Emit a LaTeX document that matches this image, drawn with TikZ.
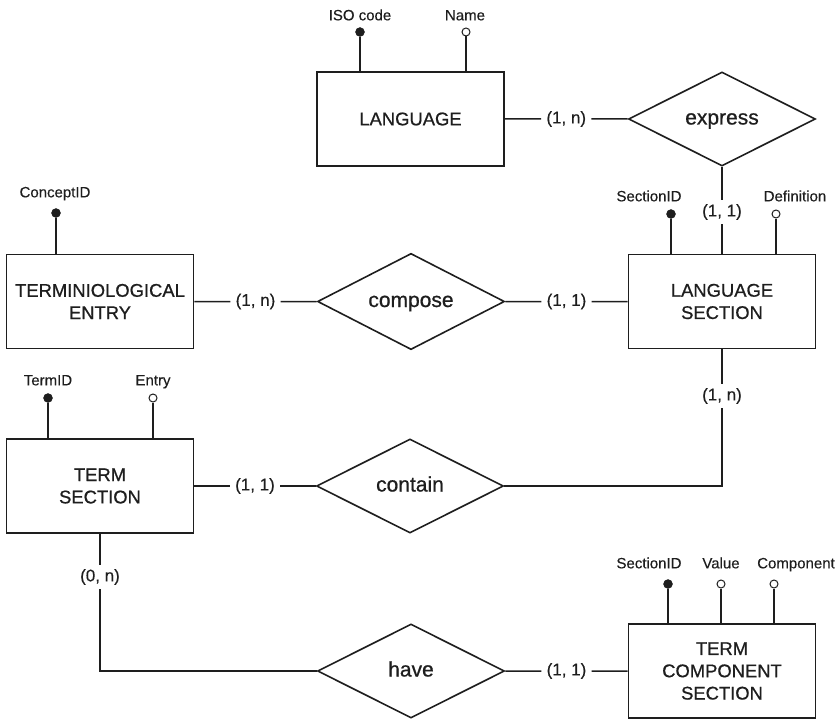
\documentclass[tikz,border=0pt]{standalone}
\usepackage{fontspec}
\setmainfont{Liberation Sans}
\newfontfamily\medfont{Liberation Sans}[FakeBold=0.8]
\newfontfamily\lightmed{Liberation Sans}[FakeBold=0.3]
\usetikzlibrary{shapes.geometric,calc}
\definecolor{ink}{HTML}{1E1E1E}
\begin{document}
\begin{tikzpicture}[x=1bp,y=-1bp,
  every node/.style={text=ink},
  entity/.style={draw=ink,line width=1.6bp,minimum width=187bp,minimum height=94bp,inner sep=0pt,align=center,font=\medfont\fontsize{18.4bp}{22.3bp}\selectfont},
  relation/.style={draw=ink,diamond,line width=1.6bp,minimum width=187bp,minimum height=94bp,inner sep=0pt,text height=11bp,text depth=0pt,font=\medfont\fontsize{21bp}{25bp}\selectfont},
  card/.style={inner xsep=5bp,inner ysep=4bp,font=\lightmed\fontsize{17bp}{20bp}\selectfont},
  keyattr/.style={circle,fill=ink,draw=ink,minimum size=9bp,inner sep=0pt},
  plainattr/.style={circle,fill=white,draw=ink,line width=1bp,minimum size=8bp,inner sep=0pt},
  attrlabel/.style={inner sep=0pt,text height=10.7bp,text depth=0pt,font=\lightmed\fontsize{15bp}{18bp}\selectfont},
  link/.style={draw=ink,line width=1.5bp}
]
\useasboundingbox (0,0) rectangle (839,719);

% entities
\node[entity] (lang) at (410.5,119) {LANGUAGE};
\node[entity] (te) at (100,301.5) {TERMINIOLOGICAL\\ENTRY};
\node[entity] (ls) at (722,301.5) {LANGUAGE\\SECTION};
\node[entity] (ts) at (100,486) {TERM\\SECTION};
\node[entity] (tcs) at (722,671) {TERM\\COMPONENT\\SECTION};

% relationships
\node[relation] (express) at (722,119) {express};
\node[relation] (compose) at (411,301.5) {compose};
\node[relation] (contain) at (410,486) {contain};
\node[relation] (have) at (411,671) {have};

% cardinalities
\node[card] (c1) at ($(lang.east)!0.5!(express.west)$) {(1, n)};
\node[card] (c2) at (722,212) {(1, 1)};
\node[card] (c3) at ($(te.east)!0.5!(compose.west)$) {(1, n)};
\node[card] (c4) at ($(compose.east)!0.5!(ls.west)$) {(1, 1)};
\node[card] (c5) at (722,396) {(1, n)};
\node[card] (c6) at ($(ts.east)!0.5!(contain.west)$) {(1, 1)};
\node[card] (c7) at (100,577) {(0, n)};
\node[card] (c8) at ($(have.east)!0.5!(tcs.west)$) {(1, 1)};

% connectors
\draw[link] (lang) -- (c1) -- (express);
\draw[link] (express.south) -- (c2.north);
\draw[link] (c2.south) -- (c2.south |- ls.north);
\draw[link] (te) -- (c3) -- (compose);
\draw[link] (compose) -- (c4) -- (ls);
\draw[link] (ls.south) -- (c5.north);
\draw[link] (c5.south) |- (contain.east);
\draw[link] (ts) -- (c6) -- (contain);
\draw[link] (ts.south) -- (c7.north);
\draw[link] (c7.south) |- (have.west);
\draw[link] (have) -- (c8) -- (tcs);

% attributes
\node[keyattr] (a1) at (360,32) {};
\node[attrlabel] (l1) at (360,15) {ISO code};
\node[plainattr] (a2) at (466,32) {};
\node[attrlabel] (l2) at (465,15) {Name};
\node[keyattr] (a3) at (671,214) {};
\node[attrlabel] (l3) at (649,196) {SectionID};
\node[plainattr] (a4) at (776,214) {};
\node[attrlabel] (l4) at (795,196) {Definition};
\node[keyattr] (a5) at (56,213) {};
\node[attrlabel] (l5) at (55,192) {ConceptID};
\node[keyattr] (a6) at (48,398) {};
\node[attrlabel] (l6) at (48,380) {TermID};
\node[plainattr] (a7) at (153,398) {};
\node[attrlabel] (l7) at (153,380) {Entry};
\node[keyattr] (a8) at (668,584) {};
\node[attrlabel] (l8) at (649,563) {SectionID};
\node[plainattr] (a9) at (721,584) {};
\node[attrlabel] (l9) at (721,563) {Value};
\node[plainattr] (a10) at (774,584) {};
\node[attrlabel] (l10) at (796,563) {Component};

\draw[link] (a1.south) -- (a1.south |- lang.north);
\draw[link] (a2.south) -- (a2.south |- lang.north);
\draw[link] (a3.south) -- (a3.south |- ls.north);
\draw[link] (a4.south) -- (a4.south |- ls.north);
\draw[link] (a5.south) -- (a5.south |- te.north);
\draw[link] (a6.south) -- (a6.south |- ts.north);
\draw[link] (a7.south) -- (a7.south |- ts.north);
\draw[link] (a8.south) -- (a8.south |- tcs.north);
\draw[link] (a9.south) -- (a9.south |- tcs.north);
\draw[link] (a10.south) -- (a10.south |- tcs.north);
\end{tikzpicture}
\end{document}
